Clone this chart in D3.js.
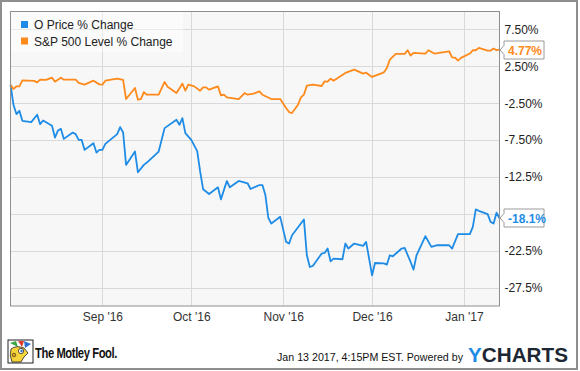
<!DOCTYPE html>
<html>
<head>
<meta charset="utf-8">
<script src="https://cdn.jsdelivr.net/npm/d3@7"></script>
<style>
  body { margin: 0; background: #fff; }
  svg { display: block; font-family: "Liberation Sans", Arial, sans-serif; }
</style>
</head>
<body>
<div id="chart"></div>
<script>
// series names
var seriesNames = ['O Price % Change', 'S&P 500 Level % Change'];

// O price % change
var oDates = ['2016-08-01','2016-08-02','2016-08-03','2016-08-04','2016-08-05','2016-08-08','2016-08-10','2016-08-11','2016-08-12',
  '2016-08-15','2016-08-16','2016-08-17','2016-08-18','2016-08-19','2016-08-22','2016-08-23','2016-08-24','2016-08-25','2016-08-26',
  '2016-08-29','2016-08-30','2016-08-31','2016-09-01','2016-09-02','2016-09-06','2016-09-07','2016-09-08','2016-09-09','2016-09-12',
  '2016-09-13','2016-09-15','2016-09-16','2016-09-20','2016-09-22','2016-09-26','2016-09-27','2016-09-28','2016-09-29','2016-10-01',
  '2016-10-03','2016-10-04','2016-10-05','2016-10-07','2016-10-10','2016-10-11','2016-10-13','2016-10-14','2016-10-17','2016-10-20',
  '2016-10-21','2016-10-24','2016-10-25','2016-10-26','2016-10-27','2016-10-28','2016-10-31','2016-11-02','2016-11-03','2016-11-04',
  '2016-11-08','2016-11-09','2016-11-10','2016-11-11','2016-11-14','2016-11-15','2016-11-16','2016-11-17','2016-11-18','2016-11-21',
  '2016-11-22','2016-11-23','2016-11-25','2016-11-28','2016-11-29','2016-12-01','2016-12-02','2016-12-05','2016-12-06','2016-12-07',
  '2016-12-08','2016-12-11','2016-12-12','2016-12-14','2016-12-15','2016-12-16','2016-12-19','2016-12-21','2016-12-23','2016-12-27',
  '2016-12-28','2016-12-30','2017-01-03','2017-01-04','2017-01-05','2017-01-06','2017-01-09','2017-01-10','2017-01-11','2017-01-12',
  '2017-01-13'];
var oValues = [0, -2.71, -3.98, -3.53, -4.89, -5.07, -4.07, -5.34, -4.85,
  -5.57, -7.16, -6.21, -5.98, -7.34, -6.48, -6.7, -7.47, -7.47, -8.83,
  -7.92, -9.2, -8.83, -8.83, -8.02, -6.7, -5.74, -6.48, -10.87, -9.06,
  -11.87, -10.87, -10.55, -9.06, -5.88, -4.75, -5.43, -4.52, -6.56, -7.47,
  -9.0, -11.79, -14.18, -14.82, -13.91, -15.54, -13.05, -13.91, -13.05, -13.36,
  -14.14, -13.6, -13.6, -14.96, -18.04, -18.81, -17.91, -21.31, -21.53, -20.4,
  -18.26, -23.12, -24.71, -24.57, -22.89, -22.81, -22.21, -23.94, -23.57, -23.66,
  -21.53, -22.21, -21.53, -21.85, -21.31, -25.84, -24.17, -24.21, -24.38, -23.12,
  -23.26, -22.21, -22.13, -24.03, -25.06, -23.12, -20.53, -21.99, -21.76, -21.76,
  -22.21, -20.26, -20.26, -19.27, -16.9, -17.09, -17.54, -18.59, -18.81, -17.36,
  -18.1];

// S&P 500 level % change
var spDates = ['2016-08-01','2016-08-02','2016-08-03','2016-08-04','2016-08-05','2016-08-09','2016-08-10','2016-08-11','2016-08-13',
  '2016-08-15','2016-08-16','2016-08-18','2016-08-19','2016-08-23','2016-08-24','2016-08-26','2016-08-29','2016-08-31','2016-09-01',
  '2016-09-02','2016-09-06','2016-09-08','2016-09-09','2016-09-12','2016-09-13','2016-09-14','2016-09-15','2016-09-16','2016-09-20',
  '2016-09-22','2016-09-23','2016-09-26','2016-09-28','2016-09-29','2016-09-30','2016-10-02','2016-10-04','2016-10-05','2016-10-06',
  '2016-10-07','2016-10-10','2016-10-11','2016-10-12','2016-10-13','2016-10-17','2016-10-19','2016-10-20','2016-10-22','2016-10-24',
  '2016-10-25','2016-10-28','2016-10-31','2016-11-02','2016-11-03','2016-11-04','2016-11-06','2016-11-07','2016-11-08','2016-11-09',
  '2016-11-11','2016-11-14','2016-11-15','2016-11-16','2016-11-17','2016-11-18','2016-11-22','2016-11-25','2016-11-28','2016-11-29',
  '2016-12-01','2016-12-05','2016-12-06','2016-12-07','2016-12-09','2016-12-12','2016-12-13','2016-12-14','2016-12-15','2016-12-19',
  '2016-12-20','2016-12-22','2016-12-27','2016-12-28','2016-12-29','2016-12-30','2016-12-31','2017-01-03','2017-01-04','2017-01-05',
  '2017-01-06','2017-01-09','2017-01-10','2017-01-11','2017-01-12','2017-01-13'];
var spValues = [0, -0.57, -0.22, -0.22, 0.6, 0.52, 0.32, 0.69, 0.65,
  0.96, 0.42, 0.96, 0.69, 0.69, 0.24, 0.01, 0.55, 0.05, 0.01,
  0.55, 0.83, 0.65, -1.94, -0.44, -2.03, -1.94, -0.99, -1.35, -1.35,
  0.38, -0.26, -1.12, 0.15, -0.81, 0.01, -0.22, -0.81, -0.36, -0.36,
  -0.67, -0.22, -1.45, -1.35, -1.72, -1.94, -1.12, -1.35, -1.21, -0.9,
  -1.35, -1.94, -1.94, -3.16, -3.7, -3.84, -2.71, -1.72, -1.35, -0.12,
  0.01, -0.17, 0.46, 0.42, 0.83, 0.55, 1.6, 2.05, 1.51, 1.64,
  1.06, 1.68, 2.28, 3.41, 4.19, 4.19, 4.68, 3.96, 4.32, 4.23,
  4.68, 4.23, 4.54, 3.72, 3.68, 3.28, 3.64, 4.23, 4.68, 4.68,
  5.0, 4.64, 4.64, 4.91, 4.68, 4.77];

// axis ticks
var yTicks = [7.5, 2.5, -2.5, -7.5, -12.5, -17.5, -22.5, -27.5];
var yTickLabels = ['7.50%', '2.50%', '-2.50%', '-7.50%', '-12.5%', '-17.5%', '-22.5%', '-27.5%'];
var xTicks = ['2016-09-01', '2016-10-01', '2016-11-01', '2016-12-01', '2017-01-01'];
var xTickLabels = ["Sep '16", "Oct '16", "Nov '16", "Dec '16", "Jan '17"];
var lastLabels = ['-18.1%', '4.77%'];

var width = 580, height = 371;
var colors = ['#1e8ce6', '#ff8a1c'];
var parse = d3.timeParse('%Y-%m-%d');

var plot = { left: 10.5, right: 499.5, top: 11.5, bottom: 306 };

var svg = d3.select('#chart').append('svg')
  .attr('width', width)
  .attr('height', height);

// outer frame
svg.append('rect')
  .attr('x', 1).attr('y', 1)
  .attr('width', width - 4).attr('height', height - 3)
  .attr('fill', '#fff')
  .attr('stroke', '#8e8e8e')
  .attr('stroke-width', 2);

var xScale = d3.scaleTime()
  .domain([parse('2016-08-01'), parse('2017-01-13')])
  .range([plot.left, plot.right]);

var yScale = d3.scaleLinear()
  .domain([-30, 10])
  .range([plot.bottom, plot.top - 0.5]);

// plot background
svg.append('rect')
  .attr('x', plot.left).attr('y', plot.top)
  .attr('width', plot.right - plot.left)
  .attr('height', plot.bottom - plot.top)
  .attr('fill', '#f7f7f7');

// horizontal grid
svg.append('g')
  .selectAll('line')
  .data(yTicks)
  .enter()
  .append('line')
  .attr('x1', plot.left).attr('x2', plot.right)
  .attr('y1', function(d) { return Math.round(yScale(d)) + 0.5; })
  .attr('y2', function(d) { return Math.round(yScale(d)) + 0.5; })
  .attr('stroke', '#d9d9d9');

// vertical grid
svg.append('g')
  .selectAll('line')
  .data(xTicks)
  .enter()
  .append('line')
  .attr('x1', function(d) { return Math.round(xScale(parse(d))) + 0.5; })
  .attr('x2', function(d) { return Math.round(xScale(parse(d))) + 0.5; })
  .attr('y1', plot.top).attr('y2', plot.bottom)
  .attr('stroke', '#d9d9d9');

// x axis labels
var xAxis = d3.axisBottom(xScale)
  .tickValues(xTicks.map(parse))
  .tickFormat(function(d, i) { return xTickLabels[i]; })
  .tickSize(0)
  .tickPadding(6);

var xAxisGroup = svg.append('g')
  .attr('transform', 'translate(0,' + plot.bottom + ')')
  .call(xAxis);
xAxisGroup.select('.domain').remove();
xAxisGroup.selectAll('text')
  .attr('fill', '#333')
  .style('font-size', '12px')
  .style('font-family', '"Liberation Sans", Arial, sans-serif');

// y axis labels (right)
var yAxis = d3.axisRight(yScale)
  .tickValues(yTicks)
  .tickFormat(function(d, i) { return yTickLabels[i]; })
  .tickSize(0)
  .tickPadding(5);

var yAxisGroup = svg.append('g')
  .attr('transform', 'translate(' + plot.right + ',0)')
  .call(yAxis);
yAxisGroup.select('.domain').remove();
yAxisGroup.selectAll('text')
  .attr('fill', '#222')
  .style('font-size', '12px')
  .style('font-family', '"Liberation Sans", Arial, sans-serif');

// lines
var line = d3.line()
  .x(function(d) { return xScale(d.date); })
  .y(function(d) { return yScale(d.value); });

var series = [
  oDates.map(function(d, i) { return { date: parse(d), value: oValues[i] }; }),
  spDates.map(function(d, i) { return { date: parse(d), value: spValues[i] }; })
];

svg.append('g')
  .selectAll('path')
  .data(series)
  .enter()
  .append('path')
  .attr('d', line)
  .attr('fill', 'none')
  .attr('stroke', function(d, i) { return colors[i]; })
  .attr('stroke-width', 1.8)
  .attr('stroke-linejoin', 'round');

// plot border
svg.append('rect')
  .attr('x', plot.left).attr('y', plot.top)
  .attr('width', plot.right - plot.left)
  .attr('height', plot.bottom - plot.top)
  .attr('fill', 'none')
  .attr('stroke', '#8e8e8e');

// legend
svg.append('rect')
  .attr('x', plot.left + 0.5).attr('y', plot.top + 0.5)
  .attr('width', 172).attr('height', 40)
  .attr('fill', '#fff')
  .attr('opacity', 0.45);

var legend = svg.append('g')
  .selectAll('g')
  .data(seriesNames)
  .enter()
  .append('g')
  .attr('transform', function(d, i) { return 'translate(21,' + (21 + i * 16.5) + ')'; });

legend.append('rect')
  .attr('width', 7).attr('height', 7)
  .attr('fill', function(d, i) { return colors[i]; });

legend.append('text')
  .attr('x', 13).attr('y', 8)
  .attr('fill', '#222')
  .style('font-size', '12px')
  .text(function(d) { return d; });

// end value tags (they cover the -17.5% label as in the original)
var tags = svg.append('g')
  .selectAll('g')
  .data(series)
  .enter()
  .append('g')
  .attr('transform', function(d) {
    var last = d[d.length - 1];
    return 'translate(' + (xScale(last.date) + 0.5) + ',' + Math.round(yScale(last.value)) + ')';
  });

tags.append('path')
  .attr('d', 'M0,0 L4,-4.5 L4,-9 L44,-9 L44,9 L4,9 L4,4.5 Z')
  .attr('fill', '#fff')
  .attr('stroke', '#9a9a9a');

tags.append('text')
  .attr('x', 8).attr('y', 4.5)
  .attr('fill', function(d, i) { return colors[i]; })
  .style('font-size', '12px')
  .style('font-weight', 'bold')
  .text(function(d, i) { return lastLabels[i]; });

// footer: Motley Fool logo
var logo = svg.append('g').attr('transform', 'translate(8,340)');
logo.append('rect').attr('width', 25).attr('height', 23).attr('fill', '#fff').attr('stroke', '#222');
logo.append('path').attr('d', 'M2,3 L8,1 L10,7 Z').attr('fill', '#3aa845');
logo.append('path').attr('d', 'M10,1 L16,1 L14,7 Z').attr('fill', '#e23a2e');
logo.append('path').attr('d', 'M16,1 L23,4 L17,8 Z').attr('fill', '#2d6fd0');
logo.append('path').attr('d', 'M3,9 Q8,5 16,8 L20,13 L16,17 L13,22 L4,22 Q1,15 3,9 Z').attr('fill', '#f5d33a').attr('stroke', '#222').attr('stroke-width', 0.8);
logo.append('circle').attr('cx', 13).attr('cy', 11).attr('r', 2.6).attr('fill', '#fff').attr('stroke', '#222').attr('stroke-width', 0.8);
logo.append('circle').attr('cx', 13.5).attr('cy', 11).attr('r', 1.2).attr('fill', '#2d6fd0');
logo.append('circle').attr('cx', 6).attr('cy', 15).attr('r', 1.8).attr('fill', '#e0a21c').attr('stroke', '#222').attr('stroke-width', 0.6);

svg.append('text')
  .attr('x', 35).attr('y', 358)
  .attr('fill', '#111')
  .attr('textLength', 82)
  .attr('lengthAdjust', 'spacingAndGlyphs')
  .style('font-size', '14px')
  .style('font-weight', 'bold')
  .style('letter-spacing', '-0.5px')
  .text('The Motley Fool.');

// footer: timestamp + ycharts
svg.append('text')
  .attr('x', 277).attr('y', 361)
  .attr('fill', '#111')
  .attr('textLength', 186)
  .attr('lengthAdjust', 'spacingAndGlyphs')
  .style('font-size', '11px')
  .text('Jan 13 2017, 4:15PM EST.  Powered by');

var yc = svg.append('text')
  .attr('x', 468).attr('y', 362)
  .attr('textLength', 100)
  .attr('lengthAdjust', 'spacingAndGlyphs')
  .style('font-size', '21px')
  .style('font-weight', 'bold');
yc.append('tspan').attr('fill', '#1e8ce6').text('Y');
yc.append('tspan').attr('fill', '#1d2733').text('CHARTS');
</script>
</body>
</html>
